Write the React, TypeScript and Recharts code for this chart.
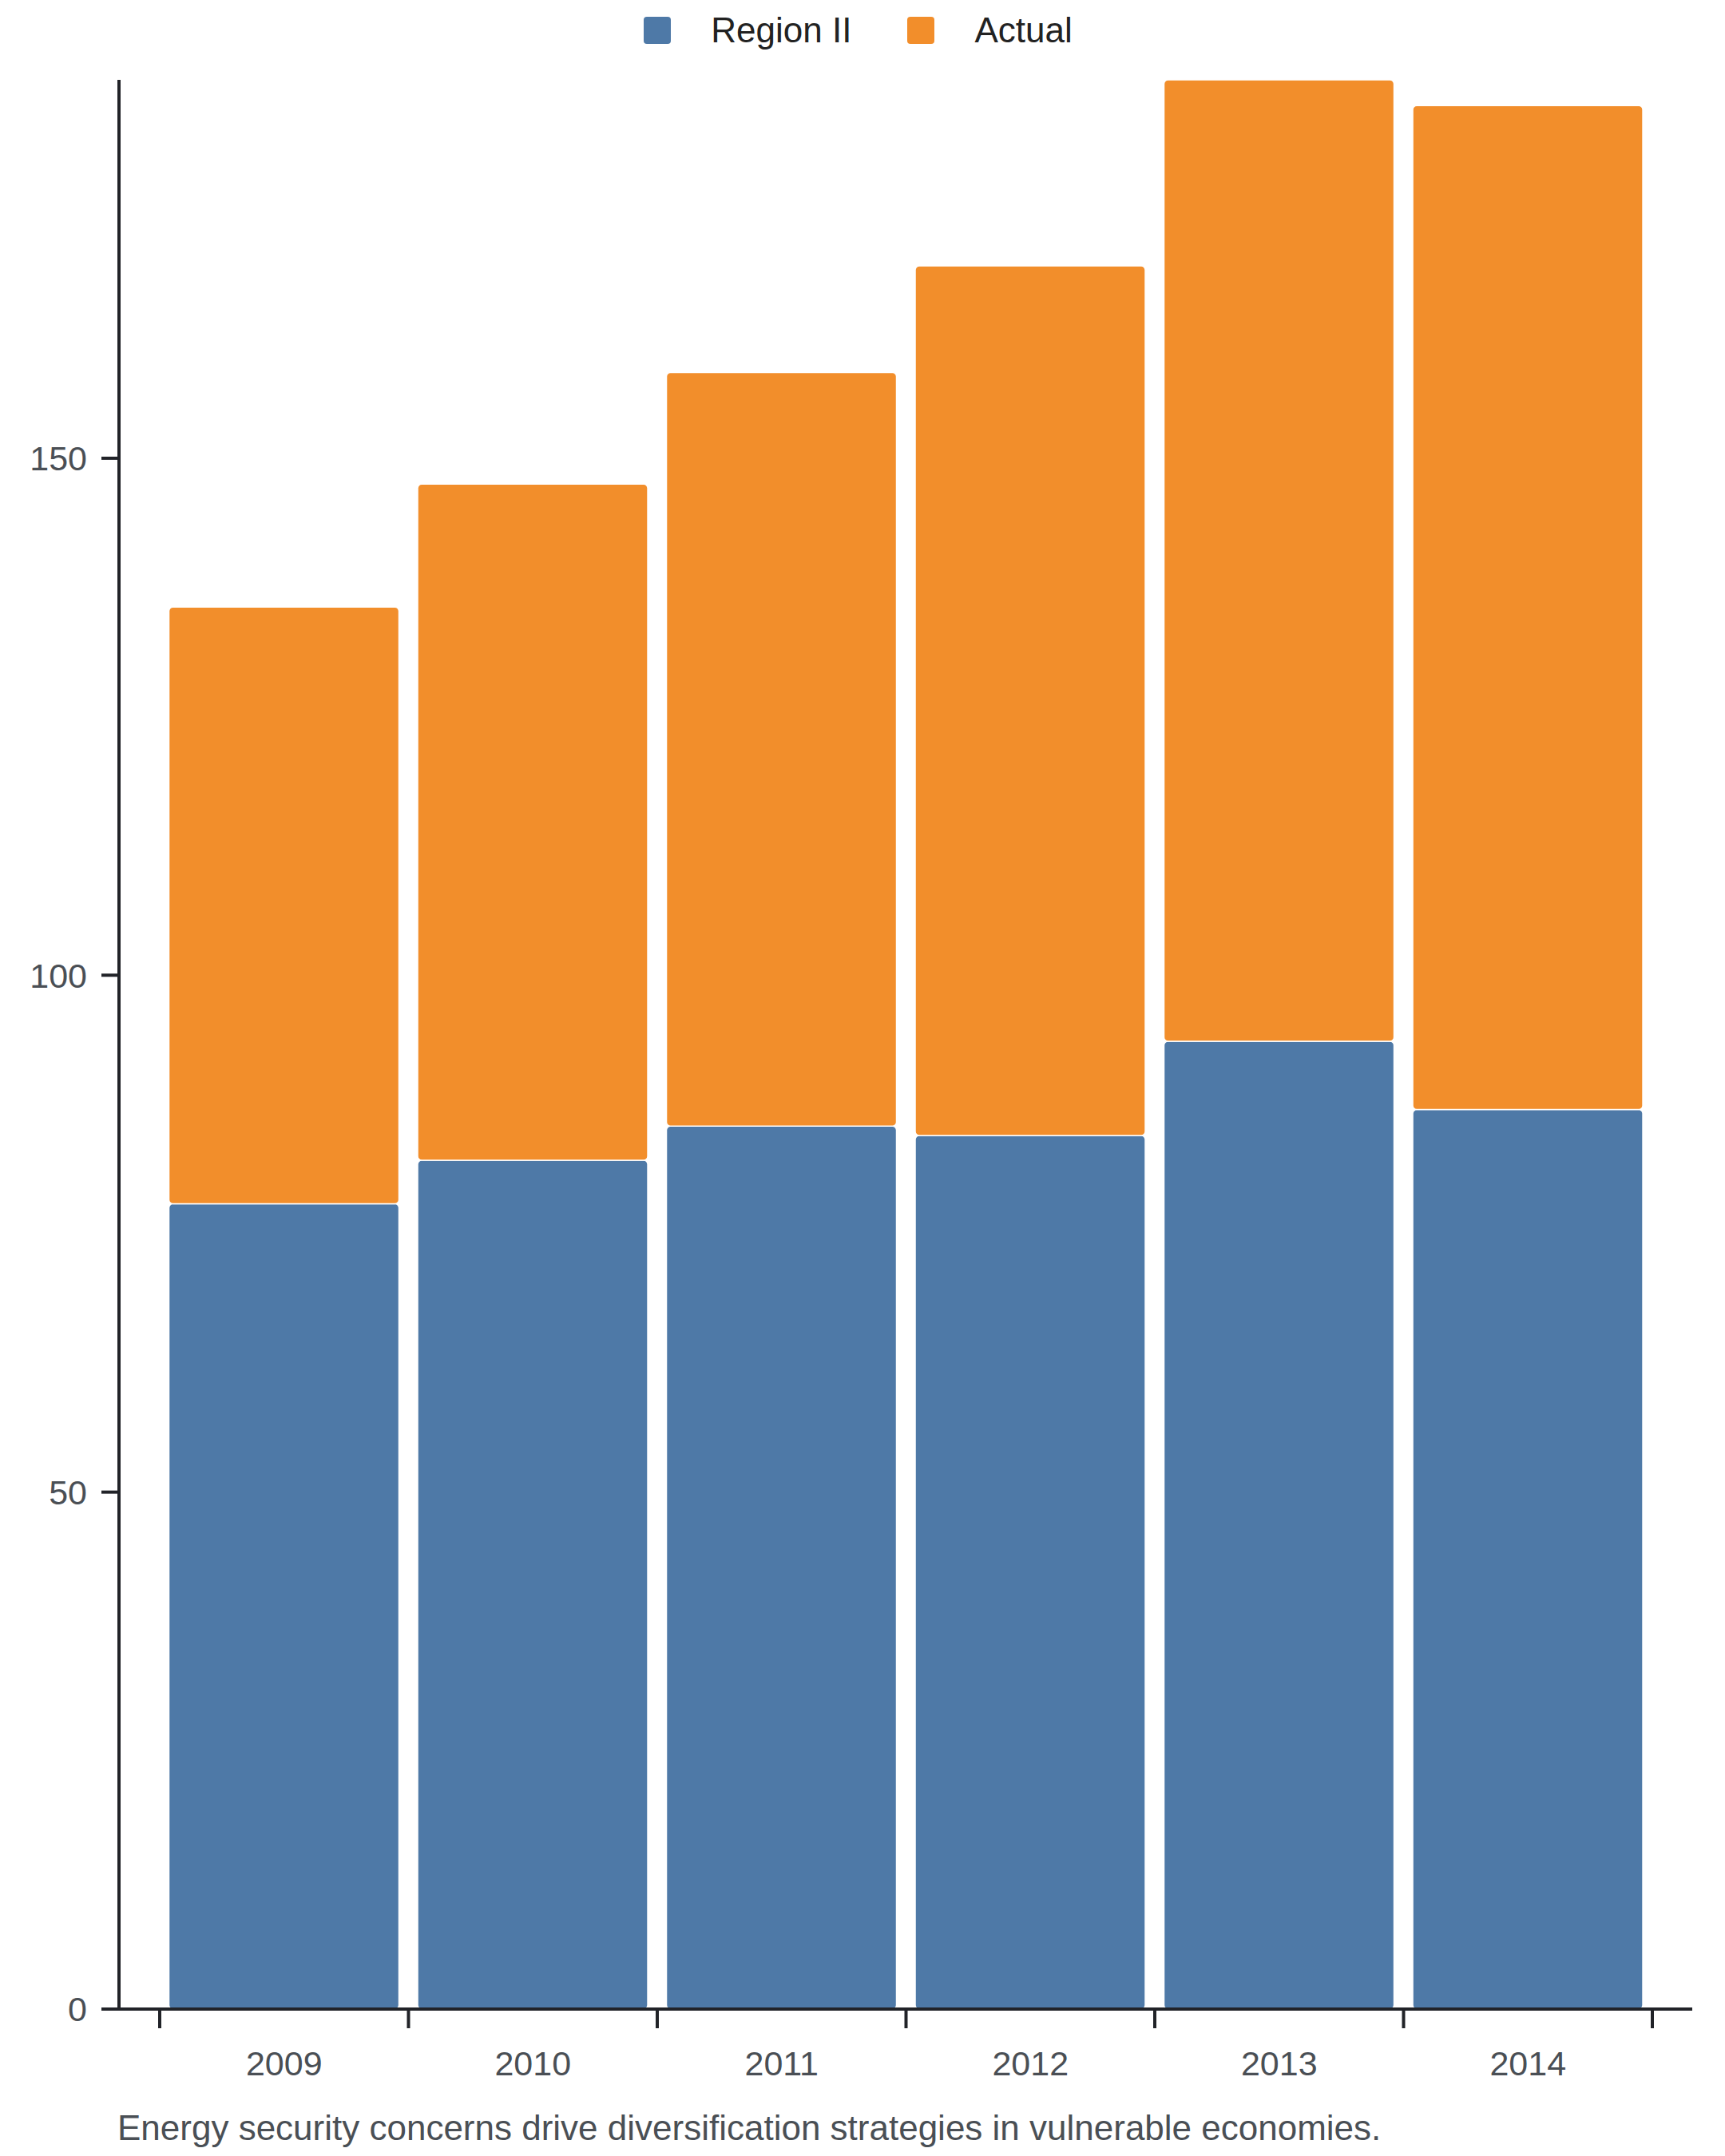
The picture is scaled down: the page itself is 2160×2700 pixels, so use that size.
import React from 'react';
import { BarChart, Bar, XAxis, YAxis, Legend } from 'recharts';

const years = ['2009', '2010', '2011', '2012', '2013', '2014'];
const regionII = [77.9, 82.1, 85.4, 84.5, 93.6, 87.0];
const actual = [57.7, 65.4, 72.9, 84.1, 93.0, 97.1];
const yTicks = [0, 50, 100, 150];
const seriesNames = ['Region II', 'Actual'];
const caption = 'Energy security concerns drive diversification strategies in vulnerable economies.';

const data = years.map((y, i) => ({ year: y, region: regionII[i], actual: actual[i] }));

const BLUE = '#4e79a7';
const ORANGE = '#f28e2b';
const seriesColors = [BLUE, ORANGE];
const AXIS = '#212328';
const TICK_TEXT = '#4a4f55';
const FONT = '"Liberation Sans", Arial, Helvetica, sans-serif';

const W = 2144;
const H = 2684;
const M = { top: 32, right: 33, bottom: 86, left: 0 };
const YW = 141;
const PAD = { left: 51, right: 50 };
const X_TICK_SIZE = 24;
const X_TICK_MARGIN = 28;
const PLOT_W = W - M.left - M.right - YW;
const HALF_BAND = (PLOT_W - PAD.left - PAD.right) / years.length / 2;

function XTick(props: any) {
  const { x, y, payload } = props;
  const idx = props.index ?? payload?.index ?? 0;
  const axisY = y - X_TICK_SIZE - X_TICK_MARGIN;
  const last = idx === years.length - 1;
  return (
    <g>
      <line x1={x - HALF_BAND} x2={x - HALF_BAND} y1={axisY} y2={axisY + X_TICK_SIZE} stroke={AXIS} strokeWidth={4} />
      {last && (
        <line x1={x + HALF_BAND} x2={x + HALF_BAND} y1={axisY} y2={axisY + X_TICK_SIZE} stroke={AXIS} strokeWidth={4} />
      )}
      <text x={x} y={y} dy="0.71em" textAnchor="middle" fill={TICK_TEXT} fontSize={43} fontFamily={FONT}>
        {payload.value}
      </text>
    </g>
  );
}

function renderLegend() {
  return (
    <div
      style={{
        display: 'flex',
        justifyContent: 'center',
        alignItems: 'center',
        height: 60,
        paddingRight: 11,
        fontFamily: FONT,
        fontSize: 44,
        color: '#222',
      }}
    >
      {seriesNames.map((name, i) => (
        <div key={name} style={{ display: 'flex', alignItems: 'center', marginLeft: i ? 70 : 0 }}>
          <span
            style={{
              display: 'inline-block',
              width: 34,
              height: 34,
              borderRadius: 4,
              background: seriesColors[i],
              marginRight: 50,
            }}
          />
          <span>{name}</span>
        </div>
      ))}
    </div>
  );
}

export default function App() {
  return (
    <div style={{ position: 'relative', width: W, height: H }}>
      <BarChart width={W} height={H} data={data} margin={M} barCategoryGap="3.7%">
        <Legend
          verticalAlign="top"
          align="center"
          content={renderLegend}
          wrapperStyle={{ top: 0, left: 0, width: W, height: 60 }}
        />
        <XAxis
          dataKey="year"
          interval={0}
          padding={PAD}
          height={90}
          tickSize={X_TICK_SIZE}
          tickMargin={X_TICK_MARGIN}
          tickLine={{ stroke: 'none' }}
          axisLine={{ stroke: AXIS, strokeWidth: 4 }}
          tick={<XTick />}
        />
        <YAxis
          width={YW}
          domain={[0, (max: number) => max]}
          ticks={yTicks}
          interval={0}
          tickSize={22}
          tickMargin={18}
          axisLine={{ stroke: AXIS, strokeWidth: 4 }}
          tickLine={{ stroke: AXIS, strokeWidth: 4 }}
          tick={{ fill: TICK_TEXT, fontSize: 43, fontFamily: FONT }}
        />
        <Bar
          dataKey="region"
          name={seriesNames[0]}
          stackId="a"
          fill={seriesColors[0]}
          stroke="#fff"
          strokeWidth={1.5}
          radius={[5, 5, 5, 5]}
          isAnimationActive={false}
        />
        <Bar
          dataKey="actual"
          name={seriesNames[1]}
          stackId="a"
          fill={seriesColors[1]}
          stroke="#fff"
          strokeWidth={1.5}
          radius={[5, 5, 5, 5]}
          isAnimationActive={false}
        />
      </BarChart>
      <svg width={W} height={H} style={{ position: 'absolute', left: 0, top: 0, pointerEvents: 'none' }}>
        <text x={139} y={2672} fill={TICK_TEXT} fontSize={44} fontFamily={FONT}>
          {caption}
        </text>
      </svg>
    </div>
  );
}
